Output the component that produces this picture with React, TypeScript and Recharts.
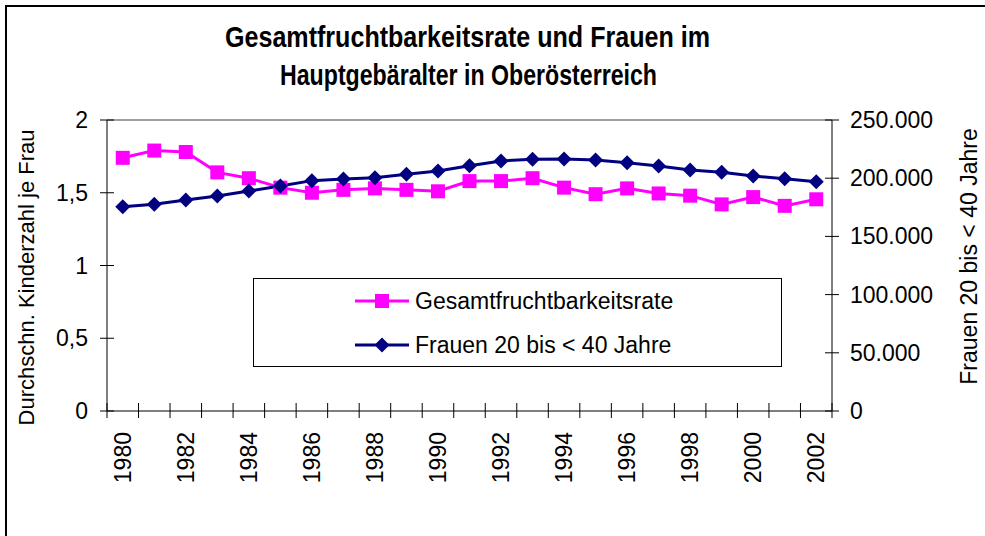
import { LineChart, Line, XAxis, YAxis, Legend, ReferenceLine } from "recharts";

// Oberösterreich, 1980–2002
const years = [
  1980, 1981, 1982, 1983, 1984, 1985, 1986, 1987, 1988, 1989, 1990, 1991,
  1992, 1993, 1994, 1995, 1996, 1997, 1998, 1999, 2000, 2001, 2002,
];
const fertilityRate = [
  1.74, 1.79, 1.78, 1.64, 1.6, 1.535, 1.5, 1.52, 1.53, 1.52, 1.51, 1.58,
  1.58, 1.6, 1.535, 1.49, 1.53, 1.495, 1.48, 1.42, 1.47, 1.41, 1.455,
];
const women20to40 = [
  175500, 177600, 181300, 184700, 189000, 193300, 197900, 199300, 200400,
  203300, 206200, 210700, 214800, 216200, 216500, 215600, 213300, 210500,
  207000, 205100, 201900, 199600, 197000,
];
const leftTicks = [0, 0.5, 1, 1.5, 2];
const rightTicks = [0, 50000, 100000, 150000, 200000, 250000];
const legendOrder = ["rate", "frauen"];

const data = years.map((year, i) => ({
  year,
  rate: fertilityRate[i],
  frauen: women20to40[i],
}));

// Striche an den Jahresgrenzen, Beschriftung in der Jahresmitte
const xTicks = [years[0] - 0.5, ...years.flatMap((y) => [y, y + 0.5])];

const PINK = "#ff00ff";
const NAVY = "#000080";
const FONT = "'Liberation Sans', Arial, sans-serif";

const fmtComma = (v: number) => String(v).replace(".", ",");
const fmtThousands = (v: number) =>
  String(v).replace(/\B(?=(\d{3})+(?!\d))/g, ".");

function YearTick({ x, y, payload }: any) {
  const v = payload.value as number;
  if (!Number.isInteger(v)) {
    return <line x1={x} x2={x} y1={y - 8} y2={y + 7} stroke="#000" />;
  }
  if (v % 2 !== 0) return <g />;
  const ty = y + 21;
  return (
    <text
      x={x}
      y={ty}
      transform={`rotate(-90 ${x} ${ty})`}
      textAnchor="end"
      dominantBaseline="central"
      fontSize={23}
      fill="#000"
    >
      {v}
    </text>
  );
}

function LeftTick({ x, y, payload }: any) {
  return (
    <g>
      <line x1={x - 7} x2={x + 7} y1={y} y2={y} stroke="#000" />
      <text x={x - 19} y={y} dy={8} textAnchor="end" fontSize={23} fill="#000">
        {fmtComma(payload.value)}
      </text>
    </g>
  );
}

function RightTick({ x, y, payload }: any) {
  return (
    <g>
      <line x1={x - 7} x2={x + 7} y1={y} y2={y} stroke="#000" />
      <text x={x + 18} y={y} dy={8} textAnchor="start" fontSize={23} fill="#000">
        {fmtThousands(payload.value)}
      </text>
    </g>
  );
}

function SquareDot({ cx, cy, index }: any) {
  return <rect key={`sq-${index}`} x={cx - 7} y={cy - 7} width={14} height={14} fill={PINK} />;
}

function DiamondDot({ cx, cy, index }: any) {
  return (
    <polygon
      key={`di-${index}`}
      points={`${cx},${cy - 7.5} ${cx + 7.5},${cy} ${cx},${cy + 7.5} ${cx - 7.5},${cy}`}
      fill={NAVY}
    />
  );
}

function LegendBox({ payload }: any) {
  const items = [...(payload || [])].sort(
    (a: any, b: any) => legendOrder.indexOf(a.dataKey) - legendOrder.indexOf(b.dataKey)
  );
  return (
    <div
      style={{
        width: 529,
        height: 89,
        border: "1px solid #000",
        boxSizing: "border-box",
        paddingLeft: 101,
        background: "#fff",
      }}
    >
      {items.map((e: any) => {
        const pink = e.dataKey === "rate";
        const c = pink ? PINK : NAVY;
        return (
          <div key={e.value} style={{ display: "flex", alignItems: "center", height: 44 }}>
            <svg width={54} height={20}>
              <line x1={0} x2={54} y1={10} y2={10} stroke={c} strokeWidth={3} />
              {pink ? (
                <rect x={20} y={3} width={14} height={14} fill={c} />
              ) : (
                <polygon points="27,2.5 34.5,10 27,17.5 19.5,10" fill={c} />
              )}
            </svg>
            <span style={{ marginLeft: 6, fontSize: 23, color: "#000" }}>{e.value}</span>
          </div>
        );
      })}
    </div>
  );
}

export default function App() {
  return (
    <div
      style={{
        position: "absolute",
        left: 0,
        top: 0,
        width: 985,
        height: 536,
        overflow: "hidden",
        background: "#fff",
        fontFamily: FONT,
      }}
    >
      <div
        style={{
          position: "absolute",
          left: 5,
          top: 5,
          width: 1000,
          height: 600,
          border: "2px solid #000",
        }}
      />
      <LineChart
        width={985}
        height={536}
        data={data}
        margin={{ top: 120, right: 0, bottom: 0, left: 0 }}
      >
        <XAxis
          dataKey="year"
          type="number"
          domain={[years[0] - 0.5, years[years.length - 1] + 0.5]}
          ticks={xTicks}
          interval={0}
          tickSize={0}
          tickMargin={0}
          tickLine={false}
          tick={<YearTick />}
          height={125}
          stroke="#000"
        />
        <YAxis
          yAxisId="left"
          domain={[0, 2]}
          ticks={leftTicks}
          width={107}
          tickSize={0}
          tickMargin={0}
          tickLine={false}
          tick={<LeftTick />}
          stroke="#000"
        />
        <YAxis
          yAxisId="right"
          orientation="right"
          domain={[0, 250000]}
          ticks={rightTicks}
          width={153}
          tickSize={0}
          tickMargin={0}
          tickLine={false}
          tick={<RightTick />}
          stroke="#000"
        />
        <ReferenceLine yAxisId="left" y={2} stroke="#808080" strokeWidth={1.5} />
        <Legend
          layout="vertical"
          align="center"
          verticalAlign="middle"
          wrapperStyle={{ left: 253, top: 278, width: 529 }}
          content={<LegendBox />}
        />
        <Line
          yAxisId="left"
          dataKey="rate"
          name="Gesamtfruchtbarkeitsrate"
          stroke={PINK}
          strokeWidth={3}
          dot={SquareDot}
          isAnimationActive={false}
        />
        <Line
          yAxisId="right"
          dataKey="frauen"
          name="Frauen 20 bis < 40 Jahre"
          stroke={NAVY}
          strokeWidth={3}
          dot={DiamondDot}
          isAnimationActive={false}
        />
      </LineChart>
      <svg
        width={985}
        height={536}
        style={{ position: "absolute", left: 0, top: 0, pointerEvents: "none" }}
      >
        <text x={467.5} y={47} textAnchor="middle" fontSize={30} fontWeight="bold" textLength={485} lengthAdjust="spacingAndGlyphs">
          Gesamtfruchtbarkeitsrate und Frauen im
        </text>
        <text x={468.5} y={85} textAnchor="middle" fontSize={30} fontWeight="bold" textLength={377} lengthAdjust="spacingAndGlyphs">
          Hauptgebäralter in Oberösterreich
        </text>
        <text
          x={26.5}
          y={277.5}
          transform="rotate(-90 26.5 277.5)"
          textAnchor="middle"
          dominantBaseline="central"
          fontSize={22}
        >
          Durchschn. Kinderzahl je Frau
        </text>
        <text
          x={969}
          y={256.5}
          transform="rotate(-90 969 256.5)"
          textAnchor="middle"
          dominantBaseline="central"
          fontSize={23}
        >
          Frauen 20 bis &lt; 40 Jahre
        </text>
      </svg>
    </div>
  );
}
